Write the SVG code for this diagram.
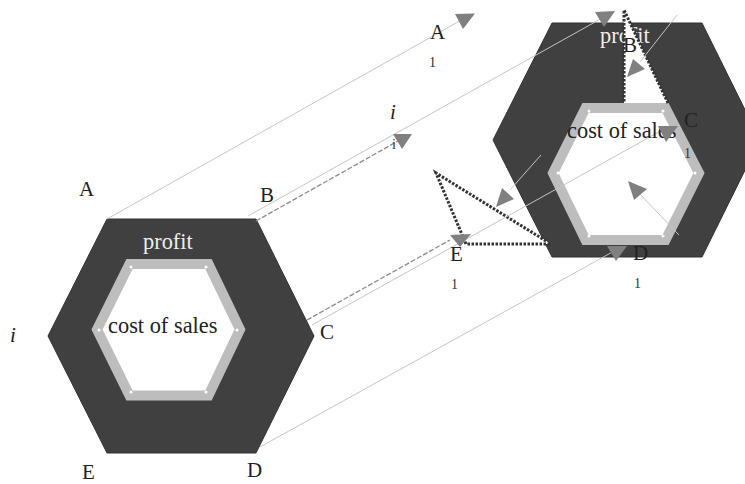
<svg xmlns="http://www.w3.org/2000/svg" width="745" height="484" viewBox="0 0 745 484">
<style>
text{font-family:"Liberation Serif","Times New Roman",serif;fill:#222}
.lb{font-size:21px}
.cs{font-size:22.400px}
.one{font-size:14px;fill:#333}
.it{font-style:italic;font-size:21px}
.hex{fill:#404040;stroke:#333;stroke-width:1}
.ring{fill:#fff;stroke:#bdbdbd;stroke-width:10;stroke-linejoin:miter}
.w{fill:#eee;font-size:22.400px}
.thin{fill:none;stroke:#c4c4c4;stroke-width:1}
.dash{fill:none;stroke:#8a8a8a;stroke-width:1.3;stroke-dasharray:5 2}
.tip{fill:#808080}
.wedge{fill:#fff;stroke:#333;stroke-width:3;stroke-dasharray:2.500 1.500}
.dot{fill:#fff}
</style>
<g id="hexagon-left">
<polygon class="hex" points="107,219 256,219 314,336 256,453 107,453 48,336"/>
<polygon class="ring" points="129.500,264 208.500,264 240,329.500 208.500,395.500 129.500,395.500 97,329.500"/>
<g class="dot"><circle cx="131" cy="267" r="1.500"/><circle cx="206" cy="267" r="1.500"/><circle cx="237" cy="330" r="1.500"/><circle cx="206" cy="392" r="1.500"/><circle cx="131" cy="392" r="1.500"/><circle cx="99" cy="330" r="1.500"/></g>
<text class="w" x="143" y="249">profit</text>
<text class="cs" x="108" y="333">cost of sales</text>
</g>
<g id="hexagon-right">
<polygon class="hex" points="552,23 702,23 760,140 702,257 552,257 493,140"/>
<polygon class="ring" points="585.500,108 665.500,108 699,173 665.500,240 585.500,240 553,173"/>
<g class="dot"><circle cx="589" cy="111" r="1.500"/><circle cx="663" cy="111" r="1.500"/><circle cx="695" cy="173" r="1.500"/><circle cx="663" cy="236" r="1.500"/><circle cx="589" cy="236" r="1.500"/><circle cx="558" cy="173" r="1.500"/></g>
<text class="w" x="600" y="43">profit</text>
</g>
<g id="wedges">
<polygon class="wedge" points="624,10 668,103 624,103" style="stroke:none"/>
<path class="wedge" d="M668,103 L624,10 L624,103" style="fill:none"/>
<polygon class="wedge" points="436,173 467,244 550,244 545,240" style="stroke:none"/>
<path class="wedge" d="M550,244 L466,244 L436,173 L546,241" style="fill:none"/>
</g>
<g id="connectors">
<path class="thin" d="M107,219 L465,18"/>
<path class="thin" d="M248,216 L604,17"/>
<path class="dash" d="M256,221 L398,141"/>
<path class="dash" d="M307,320 L450,240"/>
<path class="thin" d="M312,325 L666,128"/>
<path class="thin" d="M260,447 L616,250"/>
<path class="thin" d="M677,15 L640,62"/>
<path class="thin" d="M541,155 L510,190"/>
<path class="thin" d="M679,235 L638,192"/>
<polygon class="tip" points="455,14 475,13.500 463,29"/>
<polygon class="tip" points="595,12 615,11 604,27"/>
<polygon class="tip" points="393,134 412,134 402,149"/>
<polygon class="tip" points="450,235 471,234 460,247"/>
<polygon class="tip" points="607,246 627,246 616,261"/>
<polygon class="tip" points="633,59 645,69 627,77"/>
<polygon class="tip" points="502,188 514,199 496,207"/>
<polygon class="tip" points="628,181 647,189 634,200"/>
</g>
<g id="labels">
<text class="lb" x="79" y="196">A</text>
<text class="lb" x="260" y="202">B</text>
<text class="lb" x="320" y="339">C</text>
<text class="lb" x="247" y="477">D</text>
<text class="lb" x="82" y="479">E</text>
<text class="it" x="10" y="342">i</text>
<text class="lb" x="430" y="39">A</text>
<text class="one" x="429" y="67">1</text>
<text class="it" x="390" y="119">i</text>
<text class="one" x="392" y="149">i</text>
<text class="lb" x="623" y="52">B</text>
<text class="lb" x="684" y="127">C</text>
<text class="one" x="684" y="158">1</text>
<text class="lb" x="450" y="261">E</text>
<text class="one" x="451" y="289">1</text>
<text class="lb" x="633" y="260">D</text>
<text class="one" x="634" y="288">1</text>
<text class="cs" x="567" y="138">cost of sales</text>
<polygon class="tip" points="658,126 678,126 666,142"/>
</g>
</svg>
